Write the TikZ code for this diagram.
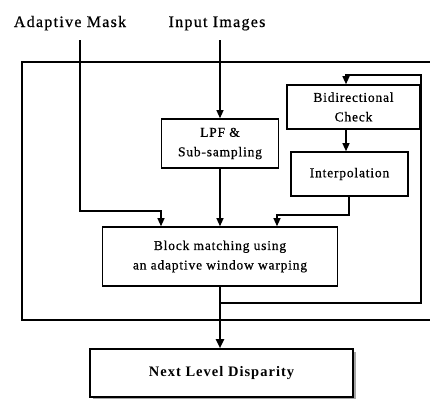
\documentclass[tikz,border=0pt]{standalone}
\usepackage{fontspec}
\setmainfont{Liberation Serif}
\usetikzlibrary{arrows.meta,calc}
\newfontfamily\titlefont[LetterSpace=8,FakeBold=0.6]{Liberation Serif}
\newfontfamily\boxfont[LetterSpace=6,FakeBold=0.6]{Liberation Serif}
\newfontfamily\boldboxfont[LetterSpace=7]{Liberation Serif Bold}
\begin{document}
\begin{tikzpicture}[x=1pt,y=-1pt,
  titletext/.style={anchor=base,font=\titlefont\fontsize{16}{18}\selectfont},
  procbox/.style={draw,line width=1.6pt,align=center,inner sep=0pt,
    font=\boxfont\fontsize{13.5}{19.5}\selectfont},
  arr/.style={line width=1.2pt,-{Triangle[length=8pt,width=7pt]}},
  outarr/.style={line width=2pt,-{Triangle[length=9pt,width=8pt]}},
  frame/.style={line width=2.6pt}]
\useasboundingbox (0,0) rectangle (430,399);
% titles
\node[titletext] (mask) at (70,27) {Adaptive Mask};
\node[titletext] (input) at (217,27) {Input Images};
\coordinate (m0) at (80,40);
\coordinate (i0) at (220,40);
% outer frame
\draw[frame] (430,62) -- (22,62) -- (22,320) -- (430,320);
% boxes
\node[procbox,minimum width=117pt,minimum height=49pt] (lpf) at (220,143.5) {LPF \&\\Sub-sampling};
\node[procbox,minimum width=133pt,minimum height=44pt] (bidi) at (353.5,107) {Bidirectional\\Check};
\node[procbox,minimum width=117pt,minimum height=44pt] (interp) at (349.5,174) {Interpolation};
\node[procbox,minimum width=235pt,minimum height=59pt] (block) at (220,256.5) {Block matching using\\an adaptive window warping};
\fill[gray!70] (93,352) rectangle (356,399);
\node[procbox,fill=white,minimum width=263pt,minimum height=48pt,font=\boldboxfont\fontsize{14.5}{18}\selectfont] (next) at (221.5,373) {Next Level Disparity};
% helper coordinates
\coordinate (mx) at (161,0);
\coordinate (ix) at (277,0);
\coordinate (fx) at (346,0);
\coordinate (mk) at (80,211);
\coordinate (ik) at (349,215);
\coordinate (fb0) at (220,303);
\coordinate (fb1) at (421,75);
% connectors
\draw[arr] (m0) -- (mk) -| (block.north -| mx);
\draw[arr] (i0) -- (lpf.north);
\draw[arr] (lpf.south) -- (block.north);
\draw[arr] (bidi.south -| fx) -- (interp.north -| fx);
\draw[arr] (interp.south -| ik) -- (ik) -| (block.north -| ix);
\draw[outarr] (block.south) -- (next.north -| block.south);
\draw[arr] (fb0) -| (fb1) -| (bidi.north -| fx);
\end{tikzpicture}
\end{document}
